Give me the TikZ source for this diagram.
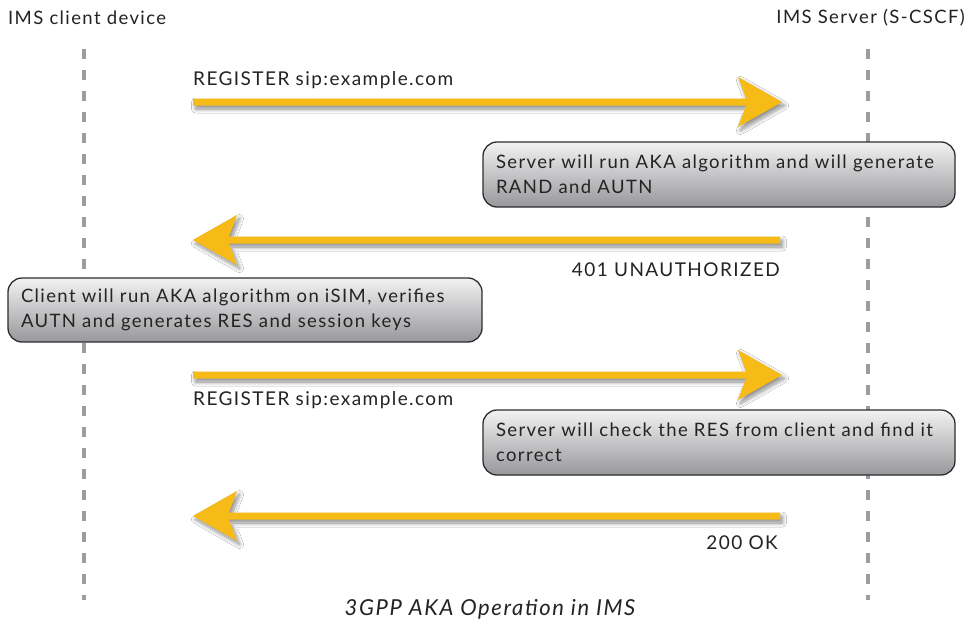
\documentclass[tikz,border=0pt]{standalone}
\usepackage{fontspec}
\setmainfont{Lato}[LetterSpace=7.5]
\usetikzlibrary{calc,shadows.blur}
\definecolor{arrowyellow}{RGB}{247,187,24}
\definecolor{lifegray}{RGB}{155,155,160}
\definecolor{boxtop}{RGB}{242,242,242}
\definecolor{boxbot}{RGB}{152,152,156}
\definecolor{boxline}{RGB}{45,45,45}
\definecolor{txt}{RGB}{35,35,35}
\tikzset{
  lifeline/.style={draw=lifegray, line width=3.5pt, dash pattern=on 10pt off 11pt},
  yarrowstyle/.style={fill=arrowyellow, blur shadow={shadow xshift=2.5pt, shadow yshift=-3.5pt, shadow blur steps=10, shadow blur radius=4pt, shadow opacity=45}},
  notebox/.style={draw=boxline, line width=1.3pt, rounded corners=14pt, top color=boxtop, bottom color=boxbot,
    inner xsep=13pt, inner ysep=0pt, align=left, anchor=center, text=txt, font=\fontsize{18.5}{25}\selectfont},
  lbl/.style={text=txt, font=\fontsize{19}{22}\selectfont, inner sep=0pt},
  hdr/.style={text=txt, font=\fontsize{18.5}{22}\selectfont, inner sep=0pt},
}
\newcommand{\yarrow}[2]{%
  \path[yarrowstyle] let \p1=(#1), \p2=(#2), \n1={sign(\x2-\x1)} in
    (\x1,\y1+3.5pt) -- (\x2-\n1*36pt,\y1+3.5pt) -- (\x2-\n1*44pt,\y1+25pt) -- (\x2,\y2)
    -- (\x2-\n1*44pt,\y1-25pt) -- (\x2-\n1*36pt,\y1-3.5pt) -- (\x1,\y1-3.5pt) -- cycle;}
\begin{document}
\begin{tikzpicture}[x=1pt,y=-1pt]
\useasboundingbox (0,0) rectangle (972,626);
\fill[white] (0,0) rectangle (972,626);
% headers
\node[hdr, anchor=west] (client) at (8,18) {IMS client device};
\node[hdr, anchor=east] (server) at (965,18) {IMS Server (S-CSCF)};
% lifelines
\coordinate (cltop) at (84,49);
\coordinate (clbot) at (84,600);
\coordinate (svtop) at (868,49);
\coordinate (svbot) at (868,600);
\draw[lifeline] (cltop) -- (clbot);
\draw[lifeline] (svtop) -- (svbot);
% arrow anchors
\coordinate (a1s) at (193,102);
\coordinate (a1e) at (782,102);
\coordinate (a2s) at (780,240);
\coordinate (a2e) at (193,240);
\coordinate (a3s) at (193,375);
\coordinate (a3e) at (782,375);
\coordinate (a4s) at (780,516);
\coordinate (a4e) at (193,516);
% boxes
\node[notebox, minimum width=472pt, minimum height=65pt, text width=446pt] (box1) at (719,174.5)
  {Server will run AKA algorithm and will generate\\RAND and AUTN};
\node[notebox, minimum width=474pt, minimum height=64pt, text width=448pt] (box2) at (245,310)
  {Client will run AKA algorithm on iSIM, verifies\\AUTN and generates RES and session keys};
\node[notebox, minimum width=472pt, minimum height=65pt, text width=446pt] (box3) at (719,442.5)
  {Server will check the RES from client and find it\\correct};
% arrows
\yarrow{a1s}{a1e}
\yarrow{a2s}{a2e}
\yarrow{a3s}{a3e}
\yarrow{a4s}{a4e}
% labels
\node[lbl, anchor=west] (m1) at (193,80) {REGISTER sip:example.com};
\node[lbl, anchor=east] (m2) at (780,270) {401 UNAUTHORIZED};
\node[lbl, anchor=west] (m3) at (193,400) {REGISTER sip:example.com};
\node[lbl, anchor=east] (m4) at (778,543) {200 OK};
% caption
\node[lbl, font=\fontsize{22}{26}\selectfont\itshape] (cap) at (490,609) {3GPP AKA Operation in IMS};
\end{tikzpicture}
\end{document}
